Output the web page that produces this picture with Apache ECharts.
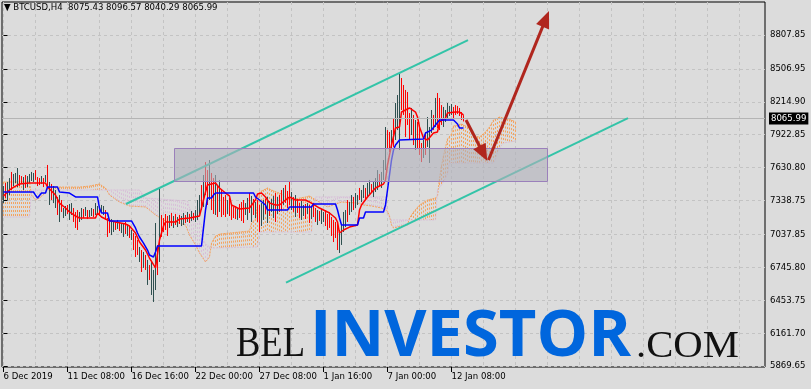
<!DOCTYPE html>
<html><head><meta charset="utf-8">
<script src="https://cdn.jsdelivr.net/npm/echarts@6/dist/echarts.min.js"></script>
<style>html,body{margin:0;padding:0;background:#dcdcdc;}#c{width:811px;height:389px;}</style>
</head><body><div id="c"></div>
<script>
// ---------- data ----------
const symbolName = 'BTCUSD,H4';
const lastBar = [8075.43, 8096.57, 8040.29, 8065.99]; // O H L C
const timeLabels = ['6 Dec 2019','11 Dec 08:00','16 Dec 16:00','22 Dec 00:00','27 Dec 08:00','1 Jan 16:00','7 Jan 00:00','12 Jan 08:00'];
const timeLabelIdx = [0,32,64,96,128,160,192,224];
const vGridIdx = [0,16,32,48,64,80,96,112,128,144,160,176,192,208,224,240,256,272,288,304,320,336,352,368];
const priceLabels = ['8807.85','8506.95','8214.90','7922.85','7630.80','7338.75','7037.85','6745.80','6453.75','6161.70','5869.65'];

const highs = [
7467,7494,7503,7538,7592,7574,7583,7627,7565,7556,
7547,7565,7556,7574,7592,7583,7609,7547,7538,7556,
7538,7565,7654,7503,7485,7467,7432,7370,7387,7343,
7272,7290,7299,7308,7316,7272,7237,7254,7237,7272,
7263,7281,7254,7254,7272,7263,7316,7290,7281,7299,
7290,7254,7183,7166,7174,7157,7148,7166,7148,7139,
7130,7148,7130,7112,7077,7050,7024,6988,6926,6899,
6882,6855,6811,6766,6793,6722,7139,6944,7450,7210,
7183,7219,7201,7210,7228,7201,7219,7192,7210,7201,
7228,7210,7237,7219,7245,7228,7254,7343,7387,7476,
7565,7680,7609,7698,7583,7538,7565,7476,7521,7432,
7370,7387,7343,7361,7299,7281,7290,7272,7308,7325,
7343,7316,7361,7405,7379,7352,7325,7343,7299,7316,
7343,7352,7370,7334,7352,7379,7405,7370,7387,7432,
7450,7476,7423,7503,7414,7370,7387,7352,7316,7334,
7299,7308,7316,7299,7281,7316,7272,7254,7245,7263,
7237,7254,7219,7237,7192,7166,7148,7139,7077,7121,
7237,7254,7343,7325,7387,7370,7405,7387,7450,7432,
7476,7450,7494,7521,7485,7503,7538,7609,7574,7592,
7698,7991,7964,7947,7964,8071,8204,8275,8470,8426,
8364,8320,8302,8115,8160,8098,8053,8036,8009,7849,
7876,7947,8080,7991,8142,8098,8249,8293,8249,8186,
8169,8142,8204,8178,8195,8169,8186,8178,8160,8124,
8096.57];
const lows = [
7316,7361,7343,7387,7432,7467,7494,7458,7467,7485,
7432,7450,7458,7494,7512,7503,7521,7467,7476,7485,
7458,7503,7458,7299,7343,7316,7272,7210,7148,7237,
7183,7201,7219,7166,7210,7148,7095,7077,7148,7166,
7183,7201,7174,7192,7201,7192,7210,7219,7201,7228,
7210,7166,7015,7050,7032,7059,7077,7086,7068,7050,
7015,7041,7024,7006,6988,6899,6837,6855,6793,6704,
6740,6722,6589,6633,6500,6438,6544,6677,6793,7015,
7059,7077,7024,7095,7112,7095,7121,7103,7130,7112,
7121,7139,7148,7139,7157,7166,7148,7166,7210,7254,
7281,7387,7299,7343,7254,7219,7210,7192,7237,7192,
7210,7192,7219,7201,7166,7183,7174,7166,7183,7157,
7139,7210,7166,7228,7148,7210,7183,7148,7059,7112,
7166,7219,7139,7201,7237,7183,7148,7219,7237,7254,
7299,7316,7272,7299,7254,7237,7192,7228,7183,7166,
7201,7174,7219,7139,7174,7192,7148,7121,7157,7130,
7148,7112,7077,7095,7024,6970,7006,6899,6873,6944,
7059,7103,7148,7210,7237,7254,7272,7299,7343,7325,
7361,7343,7370,7387,7405,7370,7414,7432,7467,7450,
7521,7609,7805,7769,7805,7814,7876,7964,7787,8142,
8098,7902,8009,7876,7920,7831,7787,7805,7743,7680,
7716,7743,7814,7672,7938,7964,7991,7982,7964,8009,
7991,8036,8071,8089,8098,8071,8098,8107,8089,8053,
8040.29];
const barRed = [
0,1,0,0,1,0,0,0,1,1, 0,1,0,0,0,0,1,1,1,0, 1,0,1,0,1,0,0,1,0,1, 0,0,1,0,0,1,1,1,0,0,
1,0,1,0,0,1,0,0,1,0, 0,1,1,1,0,0,1,0,1,0, 0,1,0,1,0,1,1,1,0,1, 0,1,0,1,0,0,0,1,0,1,
1,1,1,0,1,0,1,0,1,0, 0,1,0,1,0,1,0,0,0,1, 0,1,1,0,1,1,0,1,0,1, 1,1,0,1,1,1,1,0,1,1,
1,0,0,1,0,1,0,1,1,0, 0,1,0,1,0,0,1,0,1,1, 0,1,1,1,0,1,0,1,1,0, 0,1,0,1,0,1,1,0,1,0,
0,1,1,1,1,1,1,1,0,0, 0,0,1,0,0,1,0,0,1,0, 0,1,0,0,1,0,0,0,1,0, 0,0,1,1,0,1,0,0,0,1,
1,1,1,1,0,1,0,1,1,1, 0,1,0,0,0,1,0,1,1,1, 0,0,0,0,0,1,1,1,1,1, 1];

// Ichimoku lines: [bar index, price]
const tenkan = [[0,7379],[3,7432],[6,7467],[8,7485],[13,7494],[21,7494],[22,7458],[26,7387],[28,7316],[31,7272],[33,7237],[36,7201],[38,7183],[46,7183],[47,7228],[48,7245],[49,7192],[52,7166],[56,7148],[61,7130],[63,7112],[66,7050],[68,6970],[71,6899],[73,6828],[76,6740],[77,6731],[78,6988],[80,7112],[81,7148],[86,7148],[88,7174],[93,7183],[98,7201],[100,7343],[101,7414],[102,7476],[106,7494],[108,7450],[111,7405],[113,7379],[114,7299],[118,7263],[123,7272],[126,7343],[127,7396],[129,7405],[131,7370],[133,7316],[136,7299],[138,7299],[141,7343],[143,7370],[146,7343],[151,7343],[154,7316],[158,7272],[163,7228],[166,7183],[167,7148],[168,7050],[170,7077],[173,7103],[177,7121],[178,7254],[179,7299],[182,7370],[186,7450],[190,7485],[191,7521],[192,7654],[193,7743],[194,7831],[196,7982],[198,7991],[199,8124],[201,8142],[203,8160],[206,8124],[207,8080],[208,7991],[210,7893],[212,7876],[213,7876],[215,7938],[217,7947],[218,8036],[221,8071],[222,8115],[226,8124],[228,8124],[230,8098]];
const kijun = [[0,7414],[15,7414],[16,7387],[17,7361],[18,7361],[19,7405],[21,7405],[22,7458],[27,7458],[28,7414],[29,7405],[33,7405],[36,7370],[47,7370],[48,7272],[49,7228],[52,7228],[53,7157],[64,7157],[66,7095],[67,7050],[68,7015],[70,6961],[72,6899],[73,6855],[75,6837],[76,6882],[77,6935],[99,6935],[100,7095],[101,7254],[102,7361],[104,7361],[105,7387],[106,7405],[125,7405],[126,7370],[128,7343],[131,7299],[132,7254],[142,7254],[143,7281],[154,7281],[155,7308],[166,7308],[167,7254],[168,7183],[169,7121],[177,7121],[178,7183],[180,7183],[181,7237],[190,7237],[191,7299],[192,7432],[193,7565],[194,7698],[195,7787],[196,7831],[198,7876],[210,7885],[211,7938],[214,7964],[216,8009],[218,8053],[225,8053],[227,8018],[228,7982],[230,7982]];
const spanA = [[0,7503],[13,7503],[14,7387],[16,7343],[18,7361],[21,7405],[22,7450],[26,7458],[31,7458],[38,7458],[43,7467],[48,7485],[51,7450],[53,7387],[58,7325],[63,7290],[71,7281],[73,7254],[76,7210],[81,7157],[86,7148],[91,7121],[93,7032],[96,6944],[98,6873],[101,6793],[103,6837],[104,6961],[106,7023],[108,7041],[113,7050],[118,7059],[123,7068],[124,7139],[126,7174],[127,7299],[128,7414],[132,7450],[134,7432],[139,7396],[143,7343],[151,7370],[153,7379],[157,7334],[162,7281],[169,7325],[177,7316],[180,7299],[184,7290],[189,7272],[192,7245],[193,7201],[194,7121],[195,7095],[199,7112],[202,7121],[203,7183],[205,7237],[208,7299],[212,7343],[216,7361],[217,7379],[218,7530],[219,7645],[220,7734],[222,7885],[224,7929],[225,8000],[229,8018],[233,7982],[235,7911],[238,7902],[241,7947],[243,7991],[245,8053],[248,8080],[254,8053],[256,8036]];
const spanB = [[0,7192],[13,7192],[14,7432],[68,7432],[71,7361],[92,7334],[93,7272],[94,7245],[96,7219],[97,7175],[99,7121],[100,6988],[101,6952],[102,6935],[104,6917],[127,6926],[128,7059],[154,7059],[155,7245],[156,7370],[191,7370],[192,7210],[194,7166],[216,7166],[217,7432],[219,7476],[221,7538],[222,7574],[223,7671],[245,7671],[246,7707],[247,7769],[248,7805],[250,7849],[256,7867]];

// drawing objects (bar index, price)
const upperChannel = [[61.25,7307.6],[232.25,8761.6]];
const lowerChannel = [[141.25,6609.0],[312.25,8070.7]];
const zoneBox = [[85.4,7809.1],[271.9,7516.2]];
const arrowDown = [[231.25,8053.3],[241.9,7689.3]];
const arrowUp = [[242.5,7698.2],[272.75,9020.9]];

// ---------- chart ----------
const FONT = '"Liberation Sans Narrow","DejaVu Sans Condensed","Liberation Sans",sans-serif';
const FS = 9.5;
const yMin = 5860.69, yMax = 9100.79;
const xMin = -0.75, xMax = 380.75;
const priceTicks = priceLabels.map(Number);

function valAt(pts, j) {
  if (j <= pts[0][0]) return pts[0][1];
  for (let k = 1; k < pts.length; k++) {
    if (j <= pts[k][0]) {
      const a = pts[k-1], b = pts[k];
      return a[1] + (b[1]-a[1]) * (j - a[0]) / (b[0] - a[0]);
    }
  }
  return pts[pts.length-1][1];
}

const chart = echarts.init(document.getElementById('c'));
const arrowColor = '#b0261e';

chart.setOption({
  animation: false,
  backgroundColor: '#dcdcdc',
  title: {
    text: '\u25BC ' + symbolName + '  ' + lastBar.map(v => v.toFixed(2)).join(' '),
    left: 4, top: 2, padding: 0,
    textStyle: {fontSize: FS, fontWeight: 'normal', color: '#000', fontFamily: FONT, lineHeight: 12}
  },
  grid: {left: 2, top: 2, width: 763, height: 365, show: true, borderColor: '#000', borderWidth: 1, backgroundColor: 'transparent'},
  xAxis: [{
    type: 'value', min: xMin, max: xMax, position: 'bottom',
    axisLine: {show: false},
    axisTick: {show: false, customValues: vGridIdx},
    axisLabel: {show: false},
    splitLine: {show: true, lineStyle: {color: '#c3c3c3', type: [3, 3], width: 1}}
  }, {
    type: 'value', min: xMin, max: xMax, position: 'bottom',
    axisLine: {show: false},
    axisTick: {show: true, customValues: timeLabelIdx, length: 5, lineStyle: {color: '#000'}},
    axisLabel: {customValues: timeLabelIdx, align: 'left', margin: 5, fontSize: FS, color: '#000', fontFamily: FONT,
      formatter: v => timeLabels[timeLabelIdx.indexOf(Math.round(v))] || ''},
    splitLine: {show: false}
  }],
  yAxis: {
    type: 'value', position: 'right', min: yMin, max: yMax,
    axisLine: {show: false},
    axisTick: {show: true, customValues: priceTicks, length: 4, lineStyle: {color: '#000'}},
    axisLabel: {customValues: priceTicks, margin: 5, fontSize: FS, color: '#000', fontFamily: FONT,
      formatter: v => v.toFixed(2)},
    splitLine: {show: true, lineStyle: {color: '#c3c3c3', type: [3, 3], width: 1}}
  },
  graphic: [
    {type: 'text', x: 236, y: 345, scaleX: 0.87, z: 100,
      style: {text: 'BEL', x: 0, y: 0, fill: '#111', font: '42px "Liberation Serif", serif', textAlign: 'left', textVerticalAlign: 'middle'}},
    {type: 'text', x: 310, y: 337, z: 100,
      style: {text: 'INVESTOR', x: 0, y: 0, fill: '#0066dd', font: 'bold 65px "Open Sans", "Liberation Sans", sans-serif', textAlign: 'left', textVerticalAlign: 'middle'}},
    {type: 'text', x: 636, y: 347, scaleX: 1.1, z: 100,
      style: {text: '.COM', x: 0, y: 0, fill: '#111', font: '37px "Liberation Serif", serif', textAlign: 'left', textVerticalAlign: 'middle'}}
  ],
  series: [
    { // cloud hatch
      type: 'custom', z: 1, silent: true, clip: true,
      data: [[0, 7000]],
      encode: {x: 0, y: 1},
      renderItem: (params, api) => {
        const children = [];
        const jEnd = spanA[spanA.length-1][0];
        for (let j = 0; j <= jEnd; j++) {
          const a = valAt(spanA, j), b = valAt(spanB, j);
          const pa = api.coord([j, a]), pb = api.coord([j, b]);
          children.push({type: 'line', shape: {x1: pa[0], y1: pa[1], x2: pb[0], y2: pb[1]},
            style: {stroke: a >= b ? '#f4a460' : '#d8bfd8', lineWidth: 1, lineDash: [2, 2]}});
        }
        return {type: 'group', children};
      }
    },
    { type: 'line', name: 'Senkou A', data: spanA, z: 2, showSymbol: false, symbol: 'none', silent: true,
      lineStyle: {color: '#f4a460', width: 1, type: [2, 1]} },
    { type: 'line', name: 'Senkou B', data: spanB, z: 2, showSymbol: false, symbol: 'none', silent: true,
      lineStyle: {color: '#d8bfd8', width: 1, type: [2, 1]},
      markLine: {silent: true, symbol: 'none', animation: false,
        data: [{yAxis: lastBar[3]}],
        lineStyle: {color: '#b4b4b4', width: 1, type: 'solid'},
        label: {position: 'end', formatter: lastBar[3].toFixed(2), backgroundColor: '#000', color: '#fff',
          padding: [1, 2, 1, 2], fontSize: FS, fontFamily: FONT, distance: 4}} },
    { // OHLC bars (high-low lines)
      type: 'custom', z: 3, silent: true, clip: true,
      data: highs.map((h, i) => [i, h, lows[i], barRed[i]]),
      encode: {x: 0, y: [1, 2]},
      renderItem: (params, api) => {
        const i = api.value(0);
        const p1 = api.coord([i, api.value(1)]);
        const p2 = api.coord([i, api.value(2)]);
        return {type: 'line', shape: {x1: p1[0], y1: p1[1], x2: p2[0], y2: p2[1]},
          style: {stroke: api.value(3) ? '#ff0000' : '#2f4f4f', lineWidth: 1}};
      }
    },
    { type: 'line', name: 'Tenkan', data: tenkan, z: 4, showSymbol: false, symbol: 'none', silent: true,
      lineStyle: {color: '#ff0000', width: 1.5} },
    { type: 'line', name: 'Kijun', data: kijun, z: 4, showSymbol: false, symbol: 'none', silent: true,
      lineStyle: {color: '#0000ff', width: 1.5} },
    { type: 'line', data: upperChannel, z: 5, showSymbol: false, symbol: 'none', silent: true,
      lineStyle: {color: '#33c4a8', width: 2} },
    { type: 'line', data: lowerChannel, z: 5, showSymbol: false, symbol: 'none', silent: true,
      lineStyle: {color: '#33c4a8', width: 2} },
    { // zone rectangle
      type: 'custom', z: 6, silent: true,
      data: [[zoneBox[0][0], zoneBox[0][1], zoneBox[1][0], zoneBox[1][1]]],
      encode: {x: [0, 2], y: [1, 3]},
      renderItem: (params, api) => {
        const p1 = api.coord([api.value(0), api.value(1)]);
        const p2 = api.coord([api.value(2), api.value(3)]);
        return {type: 'rect', shape: {x: Math.round(p1[0]) + 0.5, y: Math.round(p1[1]) + 0.5,
            width: Math.round(p2[0] - p1[0]), height: Math.round(p2[1] - p1[1])},
          style: {fill: 'rgba(176,176,186,0.6)', stroke: '#9b80bb', lineWidth: 1}};
      }
    },
    { // arrows
      type: 'custom', z: 7, silent: true,
      data: [arrowDown.flat(), arrowUp.flat()],
      encode: {x: [0, 2], y: [1, 3]},
      renderItem: (params, api) => {
        const p1 = api.coord([api.value(0), api.value(1)]);
        const p2 = api.coord([api.value(2), api.value(3)]);
        const dx = p2[0] - p1[0], dy = p2[1] - p1[1], L = Math.hypot(dx, dy);
        const ux = dx / L, uy = dy / L;
        const hl = 17, hw = 7;
        const bx = p2[0] - ux * hl, by = p2[1] - uy * hl;
        return {type: 'group', children: [
          {type: 'line', shape: {x1: p1[0], y1: p1[1], x2: bx + ux * 2, y2: by + uy * 2},
            style: {stroke: arrowColor, lineWidth: 3}},
          {type: 'polygon', shape: {points: [[p2[0], p2[1]], [bx - uy * hw, by + ux * hw], [bx + uy * hw, by - ux * hw]]},
            style: {fill: arrowColor}}
        ]};
      }
    }
  ]
});
</script></body></html>
